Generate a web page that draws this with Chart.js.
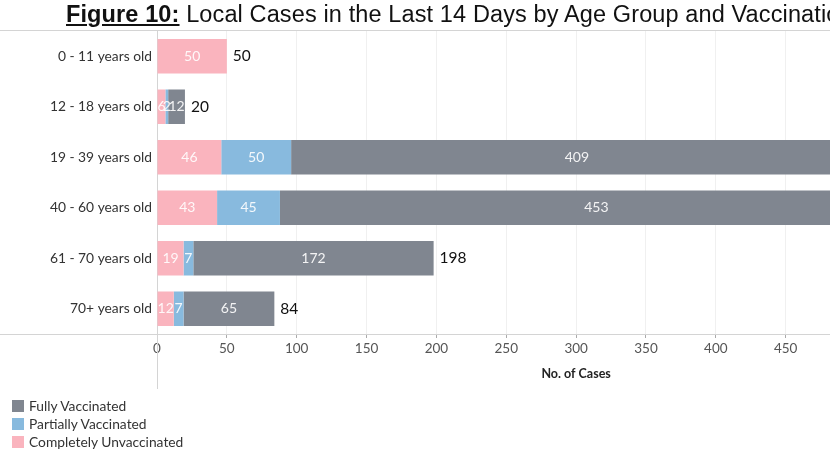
<!DOCTYPE html>
<html>
<head>
<meta charset="utf-8">
<script src="https://cdn.jsdelivr.net/npm/chart.js@4"></script>
<style>
  body { margin: 0; width: 830px; height: 468px; overflow: hidden; background: #fff; position: relative; }
  #wrap { position: absolute; left: 0; top: 0; width: 1010px; height: 468px; }
  #title { position: absolute; left: 66px; top: 1px; white-space: nowrap; font-family: "Liberation Sans", Arial, sans-serif; font-size: 23.5px; letter-spacing: 0.12px; color: #111; }
  #title b { text-decoration: underline; }
  #legend { position: absolute; left: 12px; top: 397px; font-family: Lato, sans-serif; font-size: 13.8px; color: #333; }
  #legend div { height: 18px; line-height: 18px; }
  #legend span { display: inline-block; width: 12px; height: 12px; margin-right: 5px; vertical-align: -1px; }
</style>
</head>
<body>
<div id="wrap"><canvas id="casesChart" width="1010" height="468"></canvas></div>
<div id="title"><b>Figure 10:</b> Local Cases in the Last 14 Days by Age Group and Vaccination Status</div>
<div id="legend"></div>
<script>
// Données
const ageGroups = ['0 - 11 years old', '12 - 18 years old', '19 - 39 years old', '40 - 60 years old', '61 - 70 years old', '70+ years old'];
const unvaccinated = [50, 6, 46, 43, 19, 12];
const partiallyVaccinated = [0, 2, 50, 45, 7, 7];
const fullyVaccinated = [0, 12, 409, 453, 172, 65];
const xTicks = [0, 50, 100, 150, 200, 250, 300, 350, 400, 450, 500, 550, 600];

const colors = {
    unvacc: 'rgb(250, 180, 190)',
    partial: 'rgb(136, 186, 222)',
    fully: 'rgb(128, 134, 144)'
};

// Légende (ordre inversé comme sur l'image)
const legendItems = [
    ['Fully Vaccinated', colors.fully],
    ['Partially Vaccinated', colors.partial],
    ['Completely Unvaccinated', colors.unvacc]
];
document.getElementById('legend').innerHTML = legendItems
    .map(([label, c]) => '<div><span style="background:' + c + '"></span>' + label + '</div>')
    .join('');

// Lignes du cadre + étiquettes des barres
const framePlugin = {
    id: 'frame',
    beforeDatasetsDraw(chart) {
        const ctx = chart.ctx;
        const area = chart.chartArea;
        ctx.save();
        ctx.strokeStyle = '#d4d4d4';
        ctx.lineWidth = 1;
        ctx.beginPath();
        ctx.moveTo(0, area.top - 0.5);
        ctx.lineTo(chart.width, area.top - 0.5);
        ctx.moveTo(0, area.bottom + 0.5);
        ctx.lineTo(chart.width, area.bottom + 0.5);
        ctx.moveTo(area.left + 0.5, area.top);
        ctx.lineTo(area.left + 0.5, area.bottom + 55);
        ctx.stroke();
        ctx.restore();
    },
    afterDatasetsDraw(chart) {
        const ctx = chart.ctx;
        ctx.save();
        ctx.textBaseline = 'middle';
        ctx.font = '14px Lato';
        ctx.textAlign = 'center';
        chart.data.datasets.forEach((ds, i) => {
            chart.getDatasetMeta(i).data.forEach((bar, j) => {
                const v = ds.data[j];
                if (!v) return;
                ctx.fillStyle = 'rgba(255,255,255,0.9)';
                ctx.fillText(String(v), (bar.x + bar.base) / 2, bar.y);
            });
        });
        ctx.font = '15.5px Lato';
        ctx.textAlign = 'left';
        ctx.fillStyle = '#111';
        ageGroups.forEach((g, j) => {
            const total = unvaccinated[j] + partiallyVaccinated[j] + fullyVaccinated[j];
            const x = chart.scales.x.getPixelForValue(total);
            const y = chart.scales.y.getPixelForValue(j);
            ctx.fillText(String(total), x + 6, y);
        });
        ctx.restore();
    }
};

const ctx = document.getElementById('casesChart').getContext('2d');

const casesChart = new Chart(ctx, {
    type: 'bar',
    data: {
        labels: ageGroups,
        datasets: [
            { label: 'Completely Unvaccinated', data: unvaccinated, backgroundColor: colors.unvacc },
            { label: 'Partially Vaccinated', data: partiallyVaccinated, backgroundColor: colors.partial },
            { label: 'Fully Vaccinated', data: fullyVaccinated, backgroundColor: colors.fully }
        ]
    },
    options: {
        indexAxis: 'y',
        responsive: false,
        animation: false,
        barPercentage: 0.68,
        categoryPercentage: 1,
        layout: { padding: { top: 31, bottom: 83, right: 13 } },
        plugins: {
            legend: { display: false },
            tooltip: { enabled: false }
        },
        scales: {
            x: {
                stacked: true,
                min: 0,
                max: 600,
                afterBuildTicks(scale) {
                    scale.ticks = xTicks.map(v => ({ value: v }));
                },
                afterFit(scale) { scale.height = 51; },
                grid: { color: '#f0f0f0', tickColor: '#aaa', tickLength: 4 },
                border: { display: false },
                ticks: { font: { family: 'Lato', size: 13.5 }, color: '#555', padding: 3, maxRotation: 0 },
                title: { display: true, text: 'No. of Cases', font: { family: 'Lato', size: 12.5, weight: 'bold' }, color: '#222' }
            },
            y: {
                stacked: true,
                afterFit(scale) { scale.width = 157; },
                grid: { display: false, drawTicks: false },
                border: { display: false },
                ticks: { font: { family: 'Lato', size: 13.8 }, color: '#333', padding: 5 }
            }
        }
    },
    plugins: [framePlugin]
});
</script>
</body>
</html>
